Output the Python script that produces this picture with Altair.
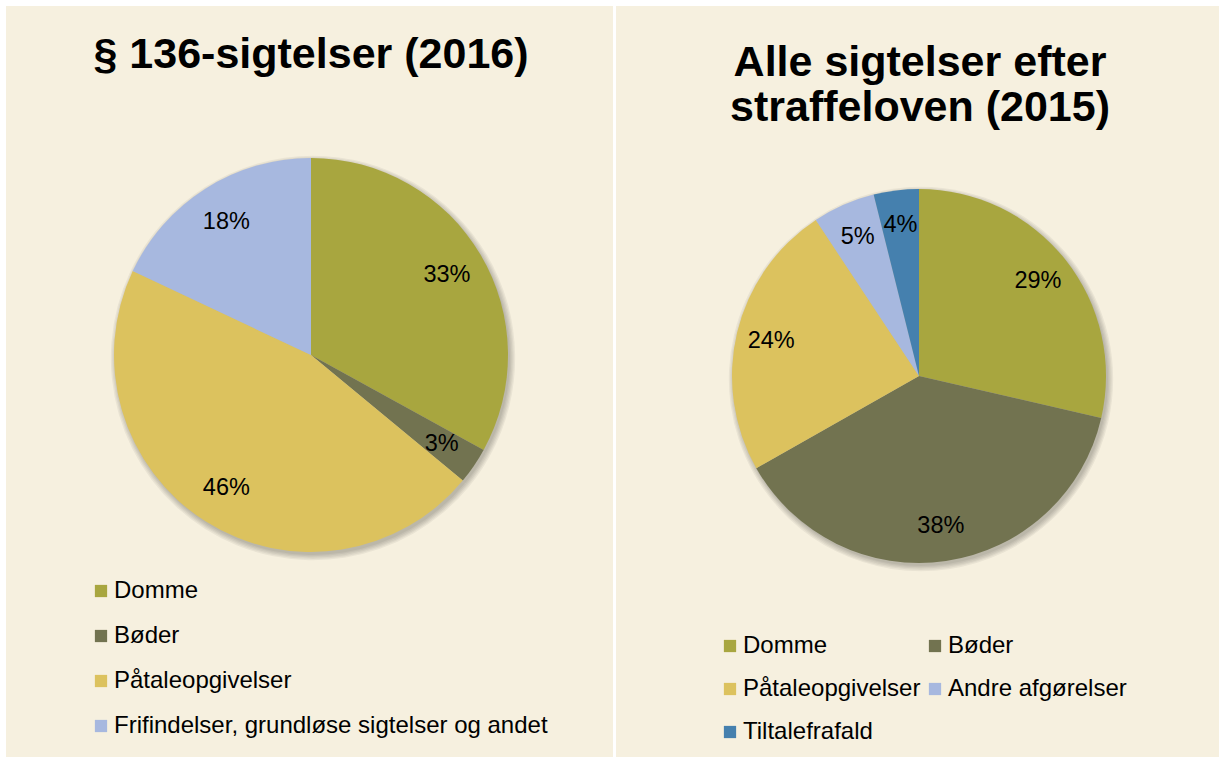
import altair as alt
import pandas as pd

# ---- data ----
CATS_1 = ["Domme", "Bøder", "Påtaleopgivelser", "Frifindelser, grundløse sigtelser og andet"]
VALS_1 = [33, 3, 46, 18]
COLORS_1 = ["#A8A63F", "#727350", "#DCC25E", "#A7B8DF"]
LEGEND_ORDER_1 = ["Domme", "Bøder", "Påtaleopgivelser", "Frifindelser, grundløse sigtelser og andet"]
TITLE_1 = ["§ 136-sigtelser (2016)"]

CATS_2 = ["Domme", "Bøder", "Påtaleopgivelser", "Andre afgørelser", "Tiltalefrafald"]
VALS_2 = [28.6, 38.2, 23.9, 5.4, 3.9]
COLORS_2 = ["#A8A63F", "#727350", "#DCC25E", "#A7B8DF", "#4580AE"]
# legend is laid out column by column; this order reads row by row as in the original
LEGEND_ORDER_2 = ["Domme", "Påtaleopgivelser", "Tiltalefrafald", "Bøder", "Andre afgørelser"]
TITLE_2 = ["Alle sigtelser efter", "straffeloven (2015)"]

BG = "#F6F0DF"
FONT = "Liberation Sans"


def make_pie(cats, vals, colors, legend_order, title_lines, W, H, cx, cy, R, label_r,
             lx, ly, columns, row_pad, col_pad, tx, ty):
    total = sum(vals)
    labels = [f"{round(v / total * 100)}%" for v in vals]
    df = pd.DataFrame({"cat": cats, "value": vals,
                       "order": list(range(len(cats))), "label": labels})
    cmap = dict(zip(cats, colors))

    color = alt.Color(
        "cat:N",
        sort=legend_order,
        scale=alt.Scale(domain=legend_order, range=[cmap[c] for c in legend_order]),
        legend=alt.Legend(
            title=None, orient="none", legendX=lx, legendY=ly,
            columns=columns, symbolType="square", symbolSize=150,
            symbolStrokeWidth=0, labelFontSize=24, labelFont=FONT,
            labelColor="black", labelOffset=1, rowPadding=row_pad,
            columnPadding=col_pad, labelLimit=700, padding=0,
        ),
    )

    base = alt.Chart(df).encode(
        theta=alt.Theta("value:Q", stack=True),
        order=alt.Order("order:Q"),
    )

    layers = []
    for k in range(5):
        layers.append(
            base.mark_arc(radius=R + k * 1.3, color="#000000", opacity=0.05)
            .encode(detail="cat:N", x=alt.value(cx + 2), y=alt.value(cy + 3))
        )

    arcs = base.mark_arc(radius=R).encode(
        color=color, x=alt.value(cx), y=alt.value(cy)
    )
    text = base.mark_text(
        radius=label_r, fontSize=23.5, font=FONT, color="black"
    ).encode(text="label:N", detail="cat:N", x=alt.value(cx), y=alt.value(cy))

    title = alt.Chart(pd.DataFrame({"t": [0]})).mark_text(
        text=title_lines if len(title_lines) > 1 else title_lines[0],
        font=FONT, fontWeight="bold", fontSize=43, lineHeight=45,
        align="center", baseline="alphabetic", color="black",
    ).encode(x=alt.value(tx), y=alt.value(ty))

    return alt.layer(*layers, arcs, text, title).properties(width=W, height=H)


p1 = make_pie(CATS_1, VALS_1, COLORS_1, LEGEND_ORDER_1, TITLE_1, 607, 751,
              305, 349, 197, 158, 83, 573, 1, 21, 10, 305, 62)
p2 = make_pie(CATS_2, VALS_2, COLORS_2, LEGEND_ORDER_2, TITLE_2, 603, 751,
              303, 370, 187, 152, 102, 628, 2, 19, 2, 304, 70)

chart = (
    alt.hconcat(p1, p2, spacing=3)
    .resolve_scale(color="independent")
    .configure(background="white",
               padding={"top": 6, "left": 6, "right": 0, "bottom": 0})
    .configure_view(fill=BG, strokeWidth=0)
)

chart.save("out.html", embed_options={"renderer": "svg", "actions": False})
